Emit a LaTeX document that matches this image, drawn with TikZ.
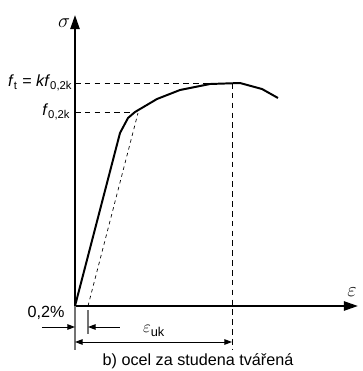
\documentclass[tikz,border=0pt]{standalone}
\usepackage{fontspec}
\setmainfont{Liberation Sans}
\usetikzlibrary{arrows.meta}

\begin{document}
\begin{tikzpicture}[
  x=0.025cm,
  y=0.025cm,
  every node/.style={font=\fontsize{11.5}{13}\selectfont, inner sep=1pt},
  greek/.style={font=\fontsize{15}{17}\selectfont},
  axis/.style={line width=1.5pt, -{Triangle[length=10pt,width=6.5pt]}},
  curve/.style={line width=1.4pt, line join=round},
  guide/.style={line width=0.6pt, dash pattern=on 4pt off 3pt},
  offset/.style={line width=0.5pt, dash pattern=on 2.5pt off 2.5pt},
  ext/.style={black!55, line width=0.8pt},
  dim/.style={line width=0.7pt, {Triangle[length=5.5pt,width=4pt]}-{Triangle[length=5.5pt,width=4pt]}},
  push/.style={line width=0.7pt, -{Triangle[length=5.5pt,width=4pt]}}
]
  \useasboundingbox (-75,-65) rectangle (288,306);

  % ---- axes -------------------------------------------------------------
  \coordinate (O) at (0,0);
  \coordinate (stip) at (0,291);
  \coordinate (etip) at (283,0);
  \draw[axis] (O) -- (stip);
  \draw[axis] (O) -- (etip);
  \node[greek] (sigma) at (-11,283) {$\sigma$};
  \node[greek] (eps) at (277,14) {$\varepsilon$};

  % ---- the stress-strain line ------------------------------------------
  \coordinate (kink) at (45,173);
  \coordinate (yield) at (60,194);
  \coordinate (peak) at (157,223);
  \draw[curve] (O) -- (kink) -- (53,188) -- (yield) -- (82,207) -- (105,216)
    -- (135,222) -- (165,223) -- (187,217) -- (203,208);

  % ---- the 0,2% offset line --------------------------------------------
  \coordinate (offs) at (13,0);
  \coordinate (offe) at (63,193);
  \draw[offset] (offs) -- (offe);

  % ---- levels f_0,2k and f_t -------------------------------------------
  \node[anchor=east] (fy) at (-3,194) {\textit{f}\textsubscript{0,2k}};
  \node[anchor=east] (ft) at (-1,223) {\textit{f}\textsubscript{t} = \textit{kf}\textsubscript{0,2k}};
  \draw[guide] (yield -| O) -- (yield);
  \draw[guide] (peak -| O) -- (peak);
  \coordinate (pfoot) at (157,-44);
  \draw[guide] (peak) -- (pfoot);

  % ---- dimensions below the axis ---------------------------------------
  \coordinate (ofoot) at (0,-44);
  \coordinate (ttop) at (13,-4);
  \coordinate (tbot) at (13,-28);
  \draw[ext] (O) -- (ofoot);
  \draw[ext] (ttop) -- (tbot);
  \node (pct) at (-29,-7) {0,2\%};
  \coordinate (pa) at (-33,-21);
  \coordinate (pb) at (45,-21);
  \draw[push] (pa) -- (pa -| O);
  \draw[push] (pb) -- (pb -| ttop);
  \coordinate (da) at (0,-36);
  \draw[dim] (da) -- (da -| pfoot);
  \node (euk) at (79,-25) {\fontsize{13}{15}\selectfont$\varepsilon$\textsubscript{uk}};

  \node (title) at (123,-55) {b) ocel za studena tvářená};
\end{tikzpicture}
\end{document}
